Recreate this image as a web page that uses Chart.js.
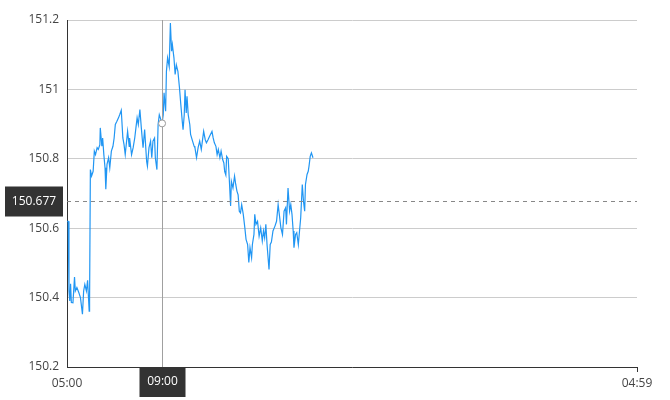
<!DOCTYPE html>
<html>
<head>
<meta charset="UTF-8">
<title>Price chart</title>
<script src="https://cdn.jsdelivr.net/npm/chart.js@4.4.1/dist/chart.umd.min.js"></script>
<style>
    html, body { margin: 0; padding: 0; background: #fff; }
    #wrap { width: 670px; height: 400px; }
</style>
</head>
<body>
<div id="wrap"><canvas id="chartPrix"></canvas></div>
<script>
    // Data (time, price)
    const times = [
        '05:00','05:03','05:05','05:07','05:09','05:11','05:15','05:19','05:21','05:25',
        '05:30','05:34','05:37','05:39','05:42','05:45','05:49','05:52','05:56','05:57',
        '05:59','06:02','06:06','06:09','06:12','06:16','06:19','06:23','06:24','06:28',
        '06:30','06:33','06:36','06:38','06:41','06:45','06:48','06:52','06:56','06:59',
        '07:02','07:06','07:10','07:13','07:17','07:21','07:24','07:27','07:33','07:37',
        '07:38','07:43','07:47','07:51','07:54','07:57','08:00','08:04','08:08','08:12',
        '08:16','08:21','08:23','08:27','08:31','08:34','08:37','08:41','08:43','08:47',
        '08:50','08:53','09:00','09:03','09:05','09:09','09:11','09:14','09:18','09:21',
        '09:24','09:26','09:30','09:33','09:36','09:40','09:44','09:47','09:51','09:53',
        '09:56','09:58','10:01','10:03','10:06','10:10','10:12','10:17','10:21','10:23',
        '10:27','10:31','10:35','10:39','10:45','10:49','10:52','10:56','11:00','11:06',
        '11:09','11:12','11:16','11:19','11:22','11:26','11:29','11:33','11:36','11:38',
        '11:41','11:43','11:47','11:50','11:53','11:55','11:59','12:03','12:06','12:09',
        '12:12','12:15','12:18','12:21','12:25','12:29','12:32','12:36','12:39','12:42',
        '12:46','12:48','12:52','12:54','12:57','13:01','13:05','13:09','13:13','13:16',
        '13:19','13:22','13:25','13:30','13:33','13:36','13:40','13:45','13:49','13:53',
        '13:56','14:00','14:04','14:08','14:12','14:14','14:18','14:22','14:25','14:28',
        '14:31','14:33','14:37','14:40','14:44','14:47','14:50','14:54','14:57','15:00',
        '15:02','15:06','15:09','15:11','15:14','15:17','15:21'
    ];
    const prices = [
        150.620,150.620,150.419,150.390,150.440,150.386,150.385,150.459,150.419,150.429,
        150.414,150.400,150.371,150.352,150.419,150.438,150.419,150.450,150.361,150.390,
        150.769,150.750,150.764,150.822,150.812,150.832,150.827,150.841,150.889,150.836,
        150.860,150.812,150.774,150.712,150.784,150.803,150.774,150.822,150.836,150.860,
        150.899,150.908,150.918,150.927,150.940,150.860,150.841,150.812,150.879,150.836,
        150.860,150.812,150.832,150.860,150.889,150.918,150.899,150.942,150.884,150.832,
        150.884,150.793,150.779,150.832,150.851,150.803,150.851,150.860,150.803,150.769,
        150.899,150.927,150.902,150.927,150.990,150.937,151.052,151.091,151.066,151.191,
        151.110,151.129,151.091,151.043,151.071,151.052,151.004,150.961,150.908,150.884,
        150.927,150.999,150.932,150.980,150.927,150.899,150.870,150.851,150.836,150.832,
        150.803,150.832,150.851,150.827,150.879,150.855,150.846,150.855,150.865,150.879,
        150.860,150.846,150.836,150.812,150.827,150.803,150.822,150.798,150.788,150.764,
        150.753,150.807,150.800,150.735,150.664,150.735,150.716,150.750,150.726,150.707,
        150.696,150.649,150.644,150.668,150.640,150.601,150.568,150.553,150.501,150.544,
        150.515,150.553,150.582,150.640,150.611,150.620,150.577,150.601,150.563,150.592,
        150.572,150.611,150.553,150.481,150.553,150.560,150.592,150.606,150.620,150.668,
        150.640,150.601,150.582,150.649,150.659,150.611,150.716,150.649,150.668,150.640,
        150.592,150.544,150.582,150.587,150.553,150.592,150.630,150.726,150.678,150.649,
        150.726,150.755,150.764,150.779,150.807,150.817,150.803
    ];
    const yTicks = [150.2, 150.4, 150.6, 150.8, 151, 151.2];
    const xTickLabels = ['05:00', '04:59'];

    // crosshair position (mouse)
    const crossTime = '09:00';
    const crossPrice = 150.677;

    function toMin(t) {
        const p = t.split(':');
        let m = parseInt(p[0], 10) * 60 + parseInt(p[1], 10) - 300;
        if (m < 0) m += 1440;
        return m;
    }
    function toLabel(m) {
        const tot = (m + 300) % 1440;
        const h = Math.floor(tot / 60), mm = tot % 60;
        return String(h).padStart(2, '0') + ':' + String(mm).padStart(2, '0');
    }

    const points = times.map((t, i) => ({ x: toMin(t), y: prices[i] }));
    const xTickValues = xTickLabels.map(toMin);

    const crosshair = {
        id: 'crosshair',
        afterDatasetsDraw(chart) {
            const ctx = chart.ctx;
            const area = chart.chartArea;
            const xs = chart.scales.x, ys = chart.scales.y;
            const cx = Math.round(xs.getPixelForValue(toMin(crossTime))) + 0.5;
            const cy = Math.round(ys.getPixelForValue(crossPrice)) + 0.5;
            ctx.save();
            // vertical line
            ctx.strokeStyle = '#a0a0a0';
            ctx.lineWidth = 1;
            ctx.beginPath();
            ctx.moveTo(cx, area.top);
            ctx.lineTo(cx, area.bottom);
            ctx.stroke();
            // dashed horizontal line
            ctx.strokeStyle = '#888';
            ctx.setLineDash([4, 4]);
            ctx.beginPath();
            ctx.moveTo(area.left, cy);
            ctx.lineTo(area.right, cy);
            ctx.stroke();
            ctx.setLineDash([]);
            // hover point
            const idx = times.indexOf(crossTime);
            if (idx >= 0) {
                const px = xs.getPixelForValue(points[idx].x);
                const py = ys.getPixelForValue(points[idx].y);
                ctx.beginPath();
                ctx.arc(px, py, 3.5, 0, Math.PI * 2);
                ctx.fillStyle = '#fff';
                ctx.fill();
                ctx.strokeStyle = '#999';
                ctx.stroke();
            }
            // labels
            ctx.font = '12px "Open Sans"';
            ctx.textAlign = 'center';
            ctx.textBaseline = 'middle';
            const yText = crossPrice.toFixed(3);
            const yw = 58;
            ctx.fillStyle = '#333';
            ctx.fillRect(area.left - 4 - yw, cy - 15, yw, 30);
            ctx.fillStyle = '#fff';
            ctx.fillText(yText, area.left - 4 - yw / 2, cy);
            const xw = 46;
            ctx.fillStyle = '#333';
            ctx.fillRect(cx - xw / 2, area.bottom, xw, 30);
            ctx.fillStyle = '#fff';
            ctx.fillText(crossTime, cx, area.bottom + 15);
            ctx.restore();
        }
    };

    new Chart(document.getElementById('chartPrix'), {
        type: 'line',
        data: {
            datasets: [{
                data: points,
                borderColor: 'rgb(33, 150, 243)',
                borderWidth: 1.2,
                pointRadius: 0,
                tension: 0,
                fill: false
            }]
        },
        options: {
            responsive: true,
            maintainAspectRatio: false,
            animation: false,
            events: [],
            layout: { padding: { top: 20, right: 33, left: 0, bottom: 0 } },
            plugins: { legend: { display: false }, tooltip: { enabled: false } },
            scales: {
                x: {
                    type: 'linear',
                    min: 0,
                    max: 1439,
                    afterBuildTicks: s => { s.ticks = xTickValues.map(v => ({ value: v })); },
                    afterFit: s => { s.height = 33; },
                    ticks: {
                        autoSkip: false,
                        maxRotation: 0,
                        color: '#444',
                        font: { family: 'Open Sans', size: 12 },
                        padding: 4,
                        callback: v => toLabel(v)
                    },
                    grid: {
                        drawOnChartArea: false,
                        drawTicks: true,
                        tickLength: 5,
                        color: c => (c.index === 0 ? 'rgba(0,0,0,0)' : '#333')
                    },
                    border: { color: '#333' }
                },
                y: {
                    min: 150.2,
                    max: 151.2,
                    afterBuildTicks: s => { s.ticks = yTicks.map(v => ({ value: v })); },
                    afterFit: s => { s.width = 67; },
                    ticks: {
                        color: '#444',
                        font: { family: 'Open Sans', size: 12 },
                        padding: 8,
                        callback: v => String(Math.round(v * 10) / 10)
                    },
                    grid: { color: '#ccc', drawTicks: false },
                    border: { color: '#333' }
                }
            }
        },
        plugins: [crosshair]
    });
</script>
</body>
</html>
